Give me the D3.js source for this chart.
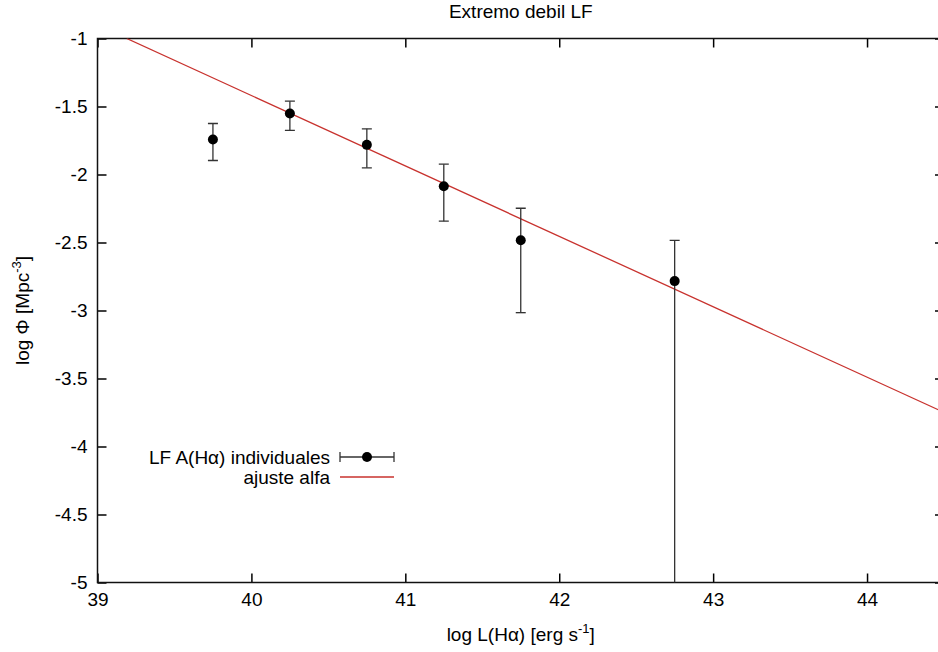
<!DOCTYPE html>
<html>
<head>
<meta charset="utf-8">
<script src="https://cdn.jsdelivr.net/npm/d3@7"></script>
<style>
  body { margin: 0; background: #fff; }
  svg { display: block; font-family: "Liberation Sans", Arial, sans-serif; }
</style>
</head>
<body>
<div id="chart"></div>
<script>
// data
const lumX = [39.75, 40.25, 40.75, 41.25, 41.75, 42.75];
const phiY = [-1.743, -1.551, -1.782, -2.086, -2.483, -2.784];
const phiLow = [-1.897, -1.676, -1.951, -2.343, -3.016, -5.6];
const phiHigh = [-1.625, -1.461, -1.664, -1.924, -2.248, -2.485];

// fit line endpoints
const fitX = [39.19, 44.5];
const fitY = [-1.0, -3.749];

const xTicks = [39, 40, 41, 42, 43, 44];
const yTicks = [-1, -1.5, -2, -2.5, -3, -3.5, -4, -4.5, -5];

const width = 938;
const height = 652;
const margin = {top: 38.5, bottom: 69.5, left: 97.5, right: -6};
const fs = 19;

const svg = d3.select('#chart')
  .append('svg')
  .attr('width', width)
  .attr('height', height);

const x = d3.scaleLinear()
  .domain([39, 44.5])
  .range([margin.left, width - margin.right]);

const y = d3.scaleLinear()
  .domain([-5, -1])
  .range([height - margin.bottom, margin.top]);

svg.append('defs').append('clipPath').attr('id', 'clip')
  .append('rect')
  .attr('x', x(39)).attr('y', y(-1))
  .attr('width', x(44.5) - x(39)).attr('height', y(-5) - y(-1));

const tickLen = 9;

// bottom axis
svg.append('g')
  .attr('transform', `translate(0,${y(-5)})`)
  .call(d3.axisBottom(x).tickValues(xTicks).tickSizeInner(-tickLen).tickSizeOuter(0).tickPadding(10).tickFormat(d3.format('d')))
  .call(g => g.select('.domain').remove())
  .call(g => g.selectAll('text').attr('font-size', fs).attr('fill', '#000').attr('font-family', 'inherit'));

// top ticks
svg.append('g')
  .attr('transform', `translate(0,${y(-1)})`)
  .call(d3.axisTop(x).tickValues(xTicks).tickSizeInner(-tickLen).tickSizeOuter(0).tickFormat(''))
  .call(g => g.select('.domain').remove());

// left axis
svg.append('g')
  .attr('transform', `translate(${x(39)},0)`)
  .call(d3.axisLeft(y).tickValues(yTicks).tickSizeInner(-tickLen).tickSizeOuter(0).tickPadding(10).tickFormat(d => d))
  .call(g => g.select('.domain').remove())
  .call(g => g.selectAll('text').attr('font-size', fs).attr('fill', '#000').attr('font-family', 'inherit'));

// right ticks
svg.append('g')
  .attr('transform', `translate(${x(44.5)},0)`)
  .call(d3.axisRight(y).tickValues(yTicks).tickSizeInner(-tickLen).tickSizeOuter(0).tickFormat(''))
  .call(g => g.select('.domain').remove());

svg.selectAll('.tick line').attr('stroke', '#000').attr('stroke-width', 1.5);

// frame
svg.append('rect')
  .attr('x', x(39)).attr('y', y(-1))
  .attr('width', x(44.5) - x(39)).attr('height', y(-5) - y(-1))
  .attr('fill', 'none').attr('stroke', '#111').attr('stroke-width', 1.5);

const plot = svg.append('g').attr('clip-path', 'url(#clip)');

// fit line
plot.append('path')
  .datum(fitX.map((d, i) => [d, fitY[i]]))
  .attr('fill', 'none')
  .attr('stroke', '#c8322e')
  .attr('stroke-width', 1.3)
  .attr('d', d3.line().x(d => x(d[0])).y(d => y(d[1])));

// error bars
const pts = lumX.map((d, i) => ({x: d, y: phiY[i], lo: phiLow[i], hi: phiHigh[i]}));
const cap = 5;
const eb = plot.append('g').attr('stroke', '#333').attr('stroke-width', 1.3);
eb.selectAll('line.v').data(pts).join('line').attr('class', 'v')
  .attr('x1', d => x(d.x)).attr('x2', d => x(d.x))
  .attr('y1', d => y(d.lo)).attr('y2', d => y(d.hi));
eb.selectAll('line.t').data(pts).join('line').attr('class', 't')
  .attr('x1', d => x(d.x) - cap).attr('x2', d => x(d.x) + cap)
  .attr('y1', d => y(d.hi)).attr('y2', d => y(d.hi));
eb.selectAll('line.b').data(pts.filter(d => d.lo > -5)).join('line').attr('class', 'b')
  .attr('x1', d => x(d.x) - cap).attr('x2', d => x(d.x) + cap)
  .attr('y1', d => y(d.lo)).attr('y2', d => y(d.lo));

plot.selectAll('circle').data(pts).join('circle')
  .attr('cx', d => x(d.x)).attr('cy', d => y(d.y))
  .attr('r', 5).attr('fill', '#000');

// legend
const lg = svg.append('g').attr('font-size', fs).attr('fill', '#000');
lg.append('text').attr('x', 330).attr('y', 457).attr('dy', '0.35em')
  .attr('text-anchor', 'end').text('LF A(Hα) individuales');
lg.append('text').attr('x', 330).attr('y', 477).attr('dy', '0.35em')
  .attr('text-anchor', 'end').text('ajuste alfa');
const lgb = lg.append('g').attr('stroke', '#333').attr('stroke-width', 1.3);
lgb.append('line').attr('x1', 340).attr('x2', 394).attr('y1', 457).attr('y2', 457);
lgb.append('line').attr('x1', 340).attr('x2', 340).attr('y1', 452).attr('y2', 462);
lgb.append('line').attr('x1', 394).attr('x2', 394).attr('y1', 452).attr('y2', 462);
lg.append('circle').attr('cx', 367).attr('cy', 457).attr('r', 5).attr('fill', '#000');
lg.append('line').attr('x1', 340).attr('x2', 394).attr('y1', 477).attr('y2', 477)
  .attr('stroke', '#c8322e').attr('stroke-width', 1.3);

// title
svg.append('text').attr('x', (x(39) + x(44.5)) / 2).attr('y', 18)
  .attr('text-anchor', 'middle').attr('font-size', fs).text('Extremo debil LF');

// x label
const xl = svg.append('text').attr('x', (x(39) + x(44.5)) / 2).attr('y', 641)
  .attr('text-anchor', 'middle').attr('font-size', fs);
xl.append('tspan').text('log L(Hα) [erg s');
xl.append('tspan').attr('font-size', 13).attr('dy', -8).text('-1');
xl.append('tspan').attr('dy', 8).text(']');

// y label
const yl = svg.append('text')
  .attr('transform', `translate(29,${(y(-1) + y(-5)) / 2}) rotate(-90)`)
  .attr('text-anchor', 'middle').attr('font-size', fs);
yl.append('tspan').text('log Φ [Mpc');
yl.append('tspan').attr('font-size', 13).attr('dy', -8).text('-3');
yl.append('tspan').attr('dy', 8).text(']');
</script>
</body>
</html>
